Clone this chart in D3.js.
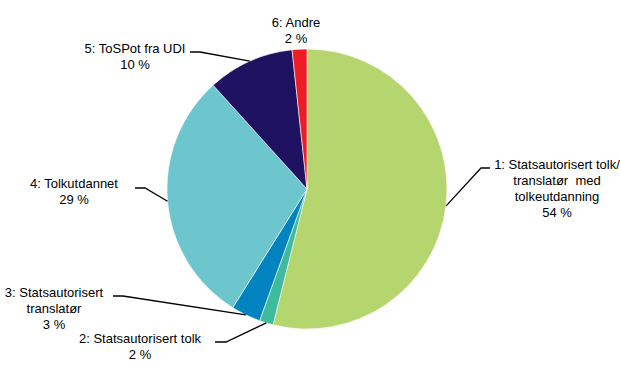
<!DOCTYPE html>
<html>
<head>
<meta charset="utf-8">
<script src="https://cdn.jsdelivr.net/npm/d3@7"></script>
<style>
  body { margin: 0; background: #fff; }
  svg text { font-family: "Liberation Sans", Arial, sans-serif; font-size: 13px; fill: #000; }
</style>
</head>
<body>
<div id="chart"></div>
<script>
// Chart data (share of interpreters by category, percent)
const categories = [
    ['1: Statsautorisert tolk/', 'translatør\u00a0 med', 'tolkeutdanning'],
    ['2: Statsautorisert tolk'],
    ['3: Statsautorisert', 'translatør'],
    ['4: Tolkutdannet'],
    ['5: ToSPot fra UDI'],
    ['6: Andre']
];
const shares = [53.9, 1.6, 3.4, 29.4, 10.0, 1.7];
const colors = ['#b5d66e', '#3dbb9c', '#0083bf', '#6dc6cd', '#1e1261', '#ee1d25'];

// Label anchor (text centre x, first line y) and leader elbow per slice
const labelPos = [
    { x: 557, y: 169, elbow: [481, 168], end: [490, 168] },
    { x: 140, y: 343, elbow: [226, 342], end: [215, 342] },
    { x: 54, y: 297, elbow: [123, 296], end: [113, 296] },
    { x: 74, y: 188, elbow: [145, 188], end: [135, 188] },
    { x: 135, y: 53, elbow: [200, 52], end: [190, 52] },
    { x: 296, y: 27, elbow: null, end: null }
];

const width = 620, height = 377;
const cx = 307, cy = 189, radius = 140;
const lineHeight = 16;

const svg = d3.select('#chart')
    .append('svg')
    .attr('width', width)
    .attr('height', height);

const pie = d3.pie().sort(null).value(d => d);
const arcs = pie(shares);
const arc = d3.arc().innerRadius(0).outerRadius(radius);

const g = svg.append('g').attr('transform', `translate(${cx},${cy})`);

g.selectAll('path')
    .data(arcs)
    .enter()
    .append('path')
    .attr('d', arc)
    .attr('fill', (d, i) => colors[i])
    .attr('stroke', '#fff')
    .attr('stroke-width', 0.6);

// Leader lines from slice edge to label
arcs.forEach((d, i) => {
    const p = labelPos[i];
    if (!p.elbow) return;
    const mid = (d.startAngle + d.endAngle) / 2;
    const sx = cx + radius * Math.sin(mid);
    const sy = cy - radius * Math.cos(mid);
    svg.append('polyline')
        .attr('points', [[sx, sy], p.elbow, p.end].map(q => q.join(',')).join(' '))
        .attr('fill', 'none')
        .attr('stroke', '#000')
        .attr('stroke-width', 1.3);
});

// Labels
arcs.forEach((d, i) => {
    const p = labelPos[i];
    const lines = categories[i].concat([`${Math.round(shares[i])} %`]);
    const t = svg.append('text')
        .attr('text-anchor', 'middle')
        .attr('x', p.x)
        .attr('y', p.y);
    lines.forEach((line, j) => {
        t.append('tspan')
            .attr('x', p.x)
            .attr('dy', j === 0 ? 0 : lineHeight)
            .text(line);
    });
});
</script>
</body>
</html>
